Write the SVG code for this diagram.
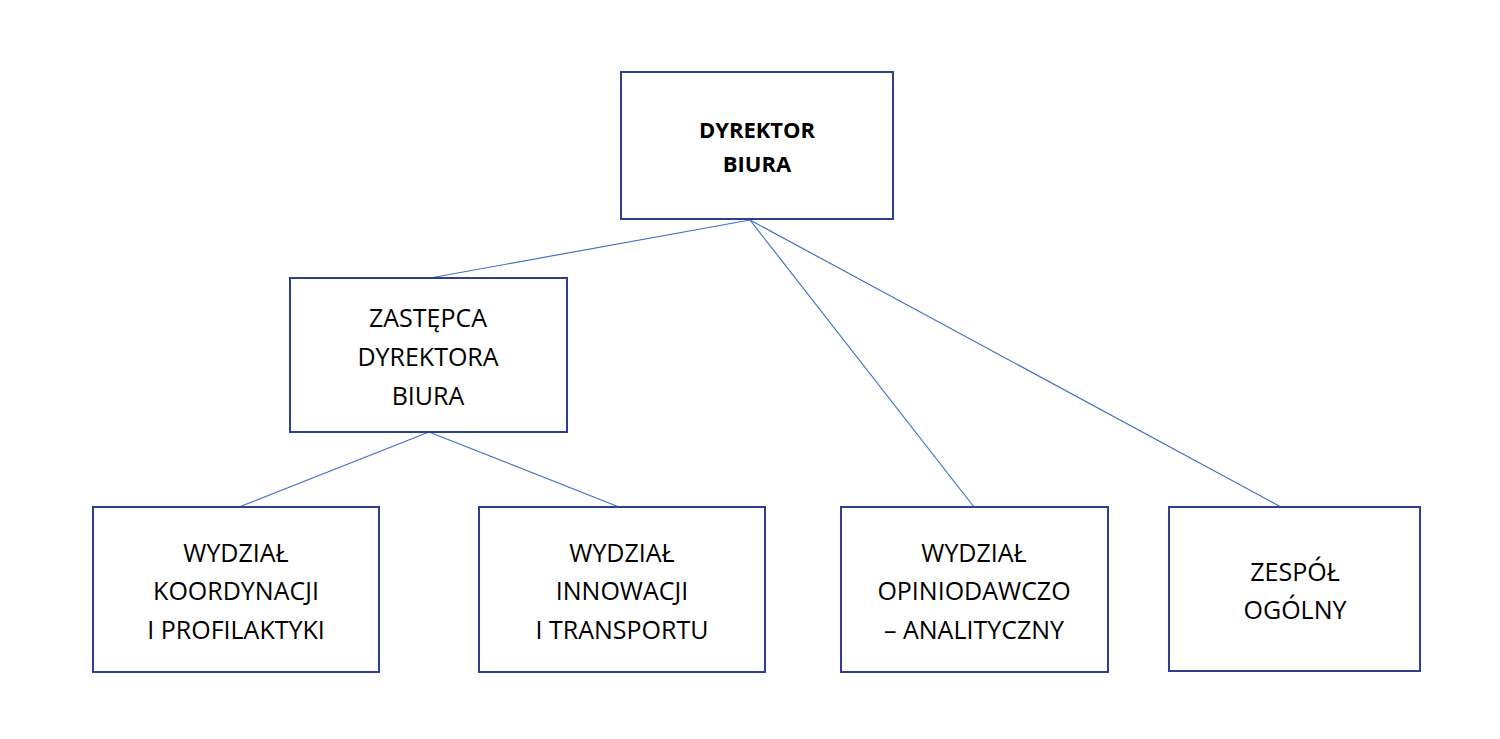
<svg xmlns="http://www.w3.org/2000/svg" width="1500" height="739" viewBox="0 0 1500 739">
<style>
.box{fill:#fff;stroke:#2E3F8F;stroke-width:2}
.t{font-family:"Open Sans","Liberation Sans",sans-serif;font-size:25px;fill:#000;text-anchor:middle}
.b{font-weight:bold;font-size:22px}
.c{stroke:#4472C4;stroke-width:1.2;fill:none}
</style>
<rect width="1500" height="739" fill="#fff"/>
<g id="connectors">
<line class="c" x1="750" y1="220" x2="430" y2="278"/>
<line class="c" x1="750" y1="220" x2="974" y2="507"/>
<line class="c" x1="750" y1="220" x2="1281" y2="507"/>
<line class="c" x1="429" y1="432" x2="239" y2="507"/>
<line class="c" x1="429" y1="432" x2="619" y2="507"/>
</g>
<g id="dyrektor"><rect class="box" x="621" y="72" width="272" height="147"/>
<text class="t b" x="757" y="138">DYREKTOR</text><text class="t b" x="757" y="172">BIURA</text></g>
<g id="zastepca"><rect class="box" x="290" y="278" width="277" height="154"/>
<text class="t" x="428" y="327">ZASTĘPCA</text><text class="t" x="428" y="366">DYREKTORA</text><text class="t" x="428" y="405">BIURA</text></g>
<g id="koordynacji"><rect class="box" x="93" y="507" width="286" height="165"/>
<text class="t" x="236" y="562">WYDZIAŁ</text><text class="t" x="236" y="600">KOORDYNACJI</text><text class="t" x="236" y="639">I PROFILAKTYKI</text></g>
<g id="innowacji"><rect class="box" x="479" y="507" width="286" height="165"/>
<text class="t" x="622" y="562">WYDZIAŁ</text><text class="t" x="622" y="600">INNOWACJI</text><text class="t" x="622" y="639">I TRANSPORTU</text></g>
<g id="opiniodawczo"><rect class="box" x="841" y="507" width="267" height="165"/>
<text class="t" x="974" y="562">WYDZIAŁ</text><text class="t" x="974" y="600">OPINIODAWCZO</text><text class="t" x="974" y="639">– ANALITYCZNY</text></g>
<g id="zespol"><rect class="box" x="1169" y="507" width="251" height="164"/>
<text class="t" x="1295" y="581">ZESPÓŁ</text><text class="t" x="1295" y="619">OGÓLNY</text></g>
</svg>
